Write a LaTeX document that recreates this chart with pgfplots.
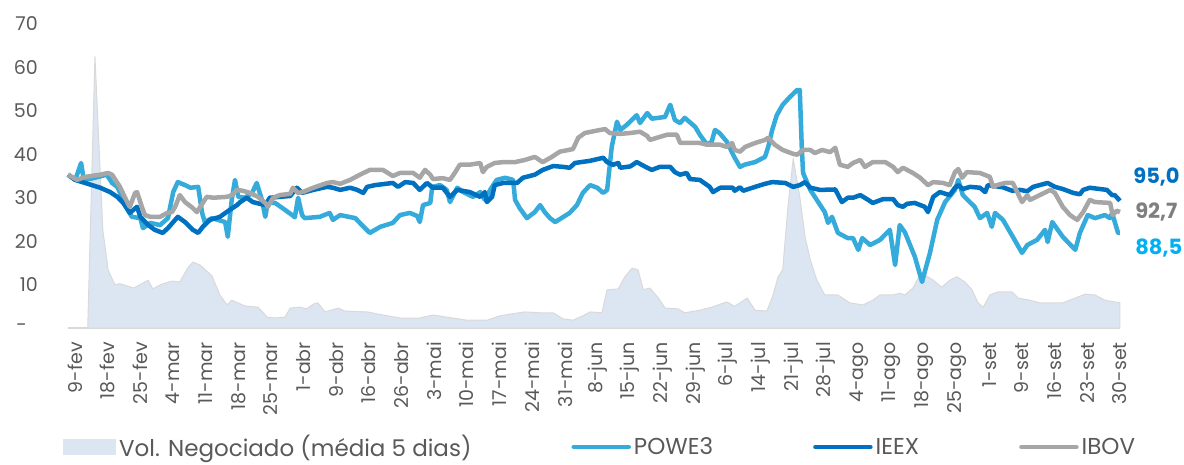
\documentclass[border=0pt]{standalone}
\usepackage{pgfplots}
\pgfplotsset{compat=1.18}
\usepackage{pgfplotstable}
\usepackage{fontspec}
\setmainfont{Poppins}
\definecolor{powe}{HTML}{34ABDB}
\definecolor{ieex}{HTML}{0070C0}
\definecolor{ibov}{HTML}{A6A6A6}
\definecolor{volfill}{HTML}{DCE6F2}
\definecolor{volline}{HTML}{D9D9D9}
\definecolor{txt}{HTML}{595959}
\definecolor{labpowe}{HTML}{00B0F0}
\definecolor{labibov}{HTML}{7F7F7F}

\pgfplotstableread{
x y
0 0
3 0
4.1 62.5
5.3 22.5
6.1 13.4
7.1 10
7.9 10.2
10 9.2
12.2 11
12.9 9
14.1 10
15.8 10.8
17 10.6
18.2 13.8
19 15.2
20.1 14.5
21.9 12
23.1 7.6
24.2 5.3
24.9 6.4
26.9 5.1
28.9 4.8
30.3 2.5
31.5 2.3
33 2.5
33.8 4.6
35.3 4.8
36.3 4.4
37.3 5.5
38 5.8
39.1 3.7
41.1 4.6
42.1 3.9
45.5 3.7
47.9 3.0
50.5 2.3
53.5 2.3
55.5 3.0
57.6 2.5
60.7 1.8
63.7 1.8
65.7 2.8
67.2 3.2
69.5 3.7
71.8 3.5
73.8 3.5
75.3 2.1
76.8 1.8
78.3 2.8
79.4 3.7
81.2 3.5
82.0 8.8
83.7 9.0
84.7 11.8
85.8 13.8
86.7 13.4
87.5 8.8
88.5 9.2
89.7 7.1
90.8 4.6
92.8 4.4
93.8 3.5
96.1 4.1
97.9 4.8
100.2 6.0
101.4 5.0
103.3 6.9
104.5 4.1
106.3 3.9
107.2 7.4
108.0 11.8
108.7 13.4
109.5 27.9
110.3 39
111.3 30.2
112.1 21
112.9 15.7
113.9 11
115.1 7.6
117.1 7.6
118.9 5.8
120.9 5.3
122.4 6.4
123.5 7.6
125.5 7.6
126.5 8.0
127.3 7.6
128.5 9.2
129.3 11.5
130.3 12.2
131.6 11
132.9 9.4
134.1 11
135.2 11.8
136.4 10.6
137.5 8.8
138.4 5.8
139.2 4.8
140.2 7.6
141.4 8.3
143.6 8.3
144.5 6.9
146.3 6.4
147.8 5.8
151.3 5.8
153.2 6.9
154.7 7.8
156.2 7.6
157.7 6.4
159.2 6.0
160 5.8
}\vol

\pgfplotstableread{
x y
0 35.3
1.1 34.1
2.0 38
2.4 34
4.1 34.6
5.9 35.3
6.7 33.4
7.5 32.5
9.1 27.2
9.7 25.6
11.0 25.3
11.4 23
12.5 24.2
14.0 23.7
15.2 25.3
16.0 31.3
16.7 33.6
17.8 32.9
18.6 32.3
19.8 32.5
20.4 26.5
20.8 24.4
21.9 25.3
23.9 24.4
24.3 21
24.9 29.5
25.4 34.1
25.9 30.2
26.9 30
28.0 31.1
28.7 33.4
29.5 29.5
30.0 25.6
30.4 29
31.5 28.8
33.0 27.2
34.1 26
34.5 25.5
35.0 30
35.6 26
36.0 25.3
38.3 25.6
39.8 26.5
40.3 24.9
41.4 26
43.7 25.3
44.7 23.7
45.9 21.9
47.5 23.3
49.4 24.2
50.5 26
52.0 26.5
53.1 25.8
53.5 24.4
54.0 28.3
55.1 28.8
55.4 32.5
56.6 32.9
57.6 31.8
58.1 29
59.2 32.3
60.1 31.3
61.6 30.2
62.7 31.3
63.4 29.5
64.2 31.8
65.2 34.1
66.5 34.6
67.7 34.1
68.0 29.5
68.7 27.6
69.8 25.3
71.0 26.7
71.8 28.3
72.5 26.7
73.3 25.3
74.1 24.4
76.3 26.5
77.4 28.3
78.3 31.1
79.4 32.9
80.5 32.3
81.4 31.1
82.0 31.8
82.7 41.7
83.5 47.5
84.0 45.6
85.0 46.8
86.5 49
87.0 47.2
88.1 49.5
88.8 48.2
90.8 48.6
91.6 51.4
92.3 47.9
93.1 47.2
93.8 48.4
95.4 46.3
96.1 44.5
97.2 42.2
97.9 42.9
98.4 45.6
99.1 44.9
100.2 42.9
101.4 39.2
102.2 37.1
102.9 37.6
104.5 38.2
106.0 39.4
106.5 41.7
107.1 45.6
107.8 49
108.7 51.4
109.8 53.2
110.9 54.8
111.3 54.8
111.6 41.7
111.8 35.7
112.9 31.8
114.1 29
115.1 26.7
115.6 24.2
116.2 25.6
117.1 21.9
118.6 20.7
119.4 20.7
120.2 18
120.8 20.7
122.0 19.1
123.5 20.3
125.0 22.6
125.8 14.5
126.5 23.7
127.3 22
128.8 16.4
129.9 10.6
130.3 12.9
131.1 17.3
132.2 24.9
133.4 29
134.9 31.8
135.4 34.1
136.1 30.6
137.9 27.9
138.7 25.3
139.8 26.5
140.5 23.3
141.0 26.5
142.2 24.9
143.7 21
145.1 17.3
145.9 19.1
147.4 20.3
148.6 22.6
149.0 19.8
149.7 24.4
151.3 21
153.2 18
153.9 21.9
155.1 26
156.2 25.3
157.7 26
158.5 25.3
158.8 26.5
159.7 21.9
160 21.9
}\powe

\pgfplotstableread{
x y
0 35.3
1.1 34.1
2.6 33.4
4.9 32.3
6.4 31.3
7.5 30.2
8.4 28.8
9.4 26.5
10.5 27.9
11.0 25.6
12.2 23.7
13.2 22.6
14.4 21.9
15.2 23
16.7 25.6
17.8 24.4
19.0 22.6
19.8 21.9
20.5 23.3
21.6 24.9
23.1 25.6
24.6 27.2
25.7 28.3
26.2 29
27.2 30
28.1 29
30.0 28.3
30.7 30
32.2 30.2
33.8 30.4
34.8 32.3
35.6 31.1
37.3 31.8
39.4 32.5
40.3 32.3
41.4 31.8
42.9 32.3
44.0 31.8
44.9 31.1
45.5 32.5
46.7 32.9
49.4 33.4
50.2 32.5
51.3 33.6
52.5 33.4
53.5 31.8
54.6 33.4
55.5 32.3
57.0 32.3
58.1 30.2
59.2 31.8
61.1 31.3
62.7 30.2
63.4 31.3
63.7 29
64.5 30.2
64.9 32.9
66.2 33.4
68.3 33.4
69.2 34.6
71.0 35.3
72.2 36.4
73.8 37.3
75.3 37.1
76.3 36.9
77.1 38
79.4 38.5
81.4 39.2
82.0 38.2
82.9 37.6
83.7 38
84.0 36.9
85.5 37.2
86.5 38.2
88.1 36.9
88.8 36.4
90.0 37.1
91.6 37.1
92.3 35.9
93.1 35.3
94.1 35.7
94.6 34.3
96.1 34.1
97.6 32.5
98.1 31.3
99.2 32.3
101.1 32.3
101.4 31.6
102.2 32.4
102.7 31.6
104.5 32.5
106.0 33.2
107.1 33.6
109.1 33.4
110.3 32.5
111.3 32.9
112.1 33.6
112.9 32.3
114.4 31.8
116.7 31.9
117.7 29
118.6 30
119.4 30
120.5 30.6
121.7 29.5
122.4 28.8
124.0 29.7
125.5 29.7
126.2 28.3
127.0 27.9
127.6 28.6
128.8 28.8
130.3 27.9
130.8 26.7
131.6 30.2
132.6 31.3
134.1 30.6
134.9 32.3
135.4 32.9
136.1 32
137.2 32.5
138.7 32.3
139.5 31.3
139.9 32.9
142.2 32.4
143.6 31.6
144.8 31.8
145.9 31.5
146.8 32.5
149.0 33.4
150.1 32.5
151.3 32
152.9 31.1
153.9 30.8
154.4 31.8
155.4 32.3
158.0 31.8
158.8 30.6
159.2 30.6
160 29.3
}\ieex

\pgfplotstableread{
x y
0 35.3
0.8 34.6
1.4 34.1
2.6 34.8
4.9 35.3
6.1 35.7
6.7 35.3
7.9 32.5
9.0 29
9.4 27.9
10.2 31.1
10.5 31.3
11.3 27.6
11.7 26
12.5 25.6
14.0 25.6
15.1 26.5
15.8 26.7
16.3 27.9
17.0 30.6
17.8 29
19.0 27.6
19.6 26.7
20.5 28.8
21.1 30.2
22.1 30
24.2 30.2
24.9 30.6
25.7 31.8
26.6 31.6
27.7 31.1
28.9 30.2
30.0 28.8
30.4 27.9
31.2 30
32.2 30.6
33.8 30.9
34.2 32.3
35.0 31.1
35.7 31.3
37.3 32.3
39.4 33.4
40.3 33.6
41.4 33.2
42.9 34.1
44.4 35.3
45.9 36.4
47.9 36.4
49.4 35
50.5 35.7
52.5 35.7
53.5 34.6
54.3 36.4
55.1 35.3
55.5 34.3
57.0 34.5
58.1 34.1
58.9 35.9
59.6 37.6
61.1 37.6
62.7 38
63.1 35.9
63.7 37.1
64.9 38
66.2 38.2
68.0 38.2
69.5 38.7
71.0 39.4
72.2 38.2
73.6 39.4
74.8 40.6
76.8 41.2
77.6 43.8
78.6 44.9
80.9 45.6
81.7 45.8
82.4 44.9
84.0 44.7
85.5 44.9
87.0 45.2
88.1 44.2
88.5 43.3
90.0 44
91.1 44.5
92.6 44.5
93.1 42.6
96.1 42.6
97.2 42.2
99.2 42.2
100.2 41.7
101.0 42.6
101.4 41
102.2 40.6
103.0 41.7
104.5 42.6
106.0 43.3
106.5 43.8
107.5 42.2
108.7 41
110.3 40.1
110.9 39.9
111.8 41
112.9 41
113.6 40.3
114.7 41
115.9 40.5
116.7 41.5
117.4 37.6
118.6 37.1
119.4 38
120.5 38.7
121.2 37.1
122.4 38.2
124.3 38.2
125.5 37.1
126.2 35.9
127.0 36.9
128.5 35.7
129.6 34.6
130.8 32.9
131.6 33.6
133.1 33.4
134.1 32.9
134.9 35.9
135.4 36.6
136.0 34.6
136.7 35.9
138.7 35.7
140.2 34.8
140.7 32.5
141.3 32.9
142.5 33.4
143.7 33.4
145.1 29
145.9 30.6
146.3 29.5
147.8 30.6
149.4 31.8
150.1 31.1
151.3 27.9
152.4 26
153.5 24.9
154.4 26.7
155.4 29.5
156.2 29
158.5 28.8
158.9 26
159.5 27
160 26.7
}\ibov

\begin{document}
\begin{tikzpicture}
\begin{axis}[
  scale only axis,
  width=1052pt, height=304pt,
  xmin=0, xmax=160, ymin=0, ymax=70,
  clip=false,
  axis x line=bottom, axis y line=left,
  x axis line style={draw=volline, line width=1.5pt, -},
  y axis line style={draw=none},
  major tick length=0pt,
  ytick={0,10,...,70},
  yticklabels={{-\hspace*{11pt}},10,20,30,40,50,60,70},
  yticklabel style={anchor=east, inner sep=0pt, xshift=-30pt, text=txt, font=\fontsize{19}{22}\selectfont},
  xtick={1.06,6.03,11.0,15.96,20.93,25.9,30.86,35.83,40.8,45.76,50.73,55.7,60.66,65.63,70.6,75.57,80.53,85.5,90.47,95.43,100.4,105.37,110.33,115.3,120.27,125.24,130.2,135.17,140.14,145.1,150.07,155.04,160.0},
  xticklabels={9-fev,18-fev,25-fev,4-mar,11-mar,18-mar,25-mar,1-abr,9-abr,16-abr,26-abr,3-mai,10-mai,17-mai,24-mai,31-mai,8-jun,15-jun,22-jun,29-jun,6-jul,14-jul,21-jul,28-jul,4-ago,11-ago,18-ago,25-ago,1-set,9-set,16-set,23-set,30-set},
  xticklabel style={rotate=90, anchor=east, inner sep=0pt, text=txt, font=\fontsize{19}{22}\selectfont},
  xticklabel shift=14pt,
  legend columns=4,
  legend style={at={(axis description cs:0,0)}, anchor=west, xshift=-5pt, yshift=-119pt,
    draw=none, fill=none, inner sep=0pt, text=txt, font=\fontsize{23}{26}\selectfont,
    /tikz/every even column/.append style={column sep=97pt},
    nodes={inner sep=3pt}},
  every axis plot/.append style={line join=round},
]
\addplot[fill=volfill, draw=volline, line width=1pt,
  legend image code/.code={\fill[volfill] (0pt,-7.5pt) rectangle (52pt,7.5pt);}] table[x=x,y=y]{\vol} \closedcycle;
\addlegendentry{Vol. Negociado (média 5 dias)}
\addplot[powe, line width=4.5pt,
  legend image code/.code={\draw[powe, line width=4.5pt, line cap=round] (2pt,0pt) -- (57pt,0pt);}] table[x=x,y=y]{\powe};
\addlegendentry{POWE3}
\addplot[ieex, line width=4.5pt,
  legend image code/.code={\draw[ieex, line width=4.5pt, line cap=round] (2pt,0pt) -- (57pt,0pt);}] table[x=x,y=y]{\ieex};
\addlegendentry{IEEX}
\addplot[ibov, line width=4.5pt,
  legend image code/.code={\draw[ibov, line width=4.5pt, line cap=round] (2pt,0pt) -- (57pt,0pt);}] table[x=x,y=y]{\ibov};
\addlegendentry{IBOV}
\node[anchor=west, inner sep=0pt, text=ieex, font=\bfseries\fontsize{21}{24}\selectfont] at (axis cs:162,34.8) {95,0};
\node[anchor=west, inner sep=0pt, text=labibov, font=\bfseries\fontsize{21}{24}\selectfont] at (axis cs:162.3,26.7) {92,7};
\node[anchor=west, inner sep=0pt, text=labpowe, font=\bfseries\fontsize{21}{24}\selectfont] at (axis cs:162.3,18.4) {88,5};
\coordinate (O) at (rel axis cs:0,0);
\end{axis}
\pgfresetboundingbox
\path ([shift={(-68pt,-136pt)}]O) rectangle ([shift={(1116pt,328pt)}]O);
\end{tikzpicture}
\end{document}
